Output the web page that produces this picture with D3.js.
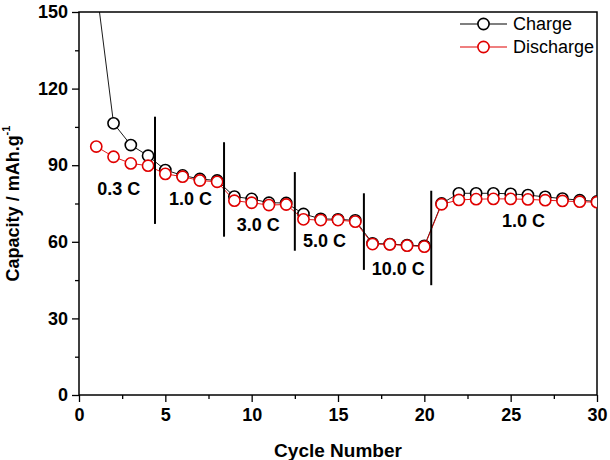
<!DOCTYPE html>
<html>
<head>
<meta charset="utf-8">
<script src="https://cdn.jsdelivr.net/npm/d3@7"></script>
<style>
  body { margin: 0; background: #fff; }
  text { font-family: "Liberation Sans", Arial, sans-serif; }
</style>
</head>
<body>
<div id="chart"></div>
<script>
// data
var cycles = [1,2,3,4,5,6,7,8,9,10,11,12,13,14,15,16,17,18,19,20,21,22,23,24,25,26,27,28,29,30];
var charge = [160, 106.4, 97.9, 93.7, 88.1, 86.0, 84.6, 84.0, 77.7, 76.8, 75.3, 75.2, 70.9, 69.0, 68.8, 68.4,
              59.4, 59.1, 58.7, 58.4, 75.0, 79.0, 79.0, 79.0, 78.8, 78.3, 77.6, 76.9, 76.3, 75.8];
var discharge = [97.3, 93.3, 90.7, 89.8, 86.6, 85.5, 84.0, 83.5, 76.1, 75.3, 74.4, 74.6, 68.8, 68.5, 68.5, 67.9,
                 59.1, 59.0, 58.5, 58.1, 74.7, 76.4, 76.7, 76.8, 76.8, 76.6, 76.3, 76.0, 75.7, 75.5];
var xTicks = [0,5,10,15,20,25,30];
var yTicks = [0,30,60,90,120,150];
// rate separators (cycle, top value, bottom value)
var sepX = [4.4, 8.4, 12.5, 16.5, 20.4];
var sepTop = [109, 99, 87.3, 79, 80];
var sepBottom = [67, 62, 56.5, 49, 43];
// rate labels
var rateLabels = ["0.3 C","1.0 C","3.0 C","5.0 C","10.0 C","1.0 C"];
var labelX = [1.06, 5.21, 9.13, 12.97, 16.95, 24.5];
var labelY = [78.3, 74.4, 64.2, 58.1, 47, 65.9];
var seriesNames = ["Charge","Discharge"];
var seriesColors = ["#000000","#e00000"];

var w = 610, h = 460;
var pL = 79, pR = 597, pT = 12, pB = 395;

var svg = d3.select("#chart").append("svg")
    .attr("width", w).attr("height", h);

var x = d3.scaleLinear().domain([0,30]).range([pL,pR]);
var y = d3.scaleLinear().domain([0,150]).range([pB,pT]);

svg.append("clipPath").attr("id","clip")
  .append("rect").attr("x",pL).attr("y",pT).attr("width",pR-pL).attr("height",pB-pT);

// minor ticks
var minorX = [];
for (var i=0; i<6; i++) minorX.push(i*5+2.5);
var minorY = [];
for (var i=0; i<5; i++) minorY.push(i*30+15);

svg.append("g").attr("transform","translate(0,"+pB+")")
  .call(d3.axisBottom(x).tickValues(minorX).tickSize(4).tickFormat(""))
  .call(function(g){ g.select(".domain").remove(); g.selectAll("line").attr("stroke-width",1.3); });
svg.append("g").attr("transform","translate("+pL+",0)")
  .call(d3.axisLeft(y).tickValues(minorY).tickSize(4).tickFormat(""))
  .call(function(g){ g.select(".domain").remove(); g.selectAll("line").attr("stroke-width",1.3); });

var xAxis = svg.append("g").attr("transform","translate(0,"+pB+")")
  .call(d3.axisBottom(x).tickValues(xTicks).tickSize(7).tickPadding(6).tickFormat(d3.format("d")));
xAxis.select(".domain").remove();
xAxis.selectAll("line").attr("stroke-width",1.3);
xAxis.selectAll("text").attr("font-size","18px").attr("font-weight","bold").attr("fill","#000")
  .attr("font-family","'Liberation Sans', Arial, sans-serif");

var yAxis = svg.append("g").attr("transform","translate("+pL+",0)")
  .call(d3.axisLeft(y).tickValues(yTicks).tickSize(7).tickPadding(4).tickFormat(d3.format("d")));
yAxis.select(".domain").remove();
yAxis.selectAll("line").attr("stroke-width",1.3);
yAxis.selectAll("text").attr("font-size","18px").attr("font-weight","bold").attr("fill","#000")
  .attr("font-family","'Liberation Sans', Arial, sans-serif");

// frame
svg.append("rect").attr("x",pL).attr("y",pT).attr("width",pR-pL).attr("height",pB-pT)
  .attr("fill","none").attr("stroke","#000").attr("stroke-width",1.5);

// axis titles
svg.append("text").attr("x",(pL+pR)/2).attr("y",457)
  .attr("text-anchor","middle").attr("font-size","19px").attr("font-weight","bold")
  .text("Cycle Number");

var yt = svg.append("text").attr("transform","translate(19,"+((pT+pB)/2)+") rotate(-90)")
  .attr("text-anchor","middle").attr("font-size","18px").attr("font-weight","bold");
yt.append("tspan").text("Capacity / mAh.g");
yt.append("tspan").attr("font-size","11px").attr("dy","-9").text("-1");

// series
var plot = svg.append("g").attr("clip-path","url(#clip)");
var all = [charge, discharge];
var line = d3.line().x(function(d,i){ return x(cycles[i]); }).y(function(d){ return y(d); });

for (var s=0; s<2; s++) {
  plot.append("path").datum(all[s])
    .attr("d", line).attr("fill","none")
    .attr("stroke", seriesColors[s]).attr("stroke-width",0.9);
  plot.selectAll(".m"+s).data(all[s]).enter().append("circle")
    .attr("class","m"+s)
    .attr("cx", function(d,i){ return x(cycles[i]); })
    .attr("cy", function(d){ return y(d); })
    .attr("r", 5.6)
    .attr("fill","#fff")
    .attr("stroke", seriesColors[s]).attr("stroke-width",1.6);
}

// separators
svg.selectAll(".sep").data(sepX).enter().append("line")
  .attr("x1", function(d){ return x(d); }).attr("x2", function(d){ return x(d); })
  .attr("y1", function(d,i){ return y(sepTop[i]); })
  .attr("y2", function(d,i){ return y(sepBottom[i]); })
  .attr("stroke","#000").attr("stroke-width",2);

// rate labels
svg.selectAll(".rate").data(rateLabels).enter().append("text")
  .attr("x", function(d,i){ return x(labelX[i]); })
  .attr("y", function(d,i){ return y(labelY[i]); })
  .attr("font-size","18px").attr("font-weight","bold")
  .text(function(d){ return d; });

// legend
var leg = svg.append("g");
for (var s=0; s<2; s++) {
  var ly = 24 + s*23;
  leg.append("line").attr("x1",460).attr("x2",507).attr("y1",ly).attr("y2",ly)
    .attr("stroke",seriesColors[s]).attr("stroke-width",1.2);
  leg.append("circle").attr("cx",483.5).attr("cy",ly).attr("r",5.6)
    .attr("fill","#fff").attr("stroke",seriesColors[s]).attr("stroke-width",1.6);
  leg.append("text").attr("x",513).attr("y",ly).attr("dy","0.35em")
    .attr("font-size","18px").text(seriesNames[s]);
}
</script>
</body>
</html>
